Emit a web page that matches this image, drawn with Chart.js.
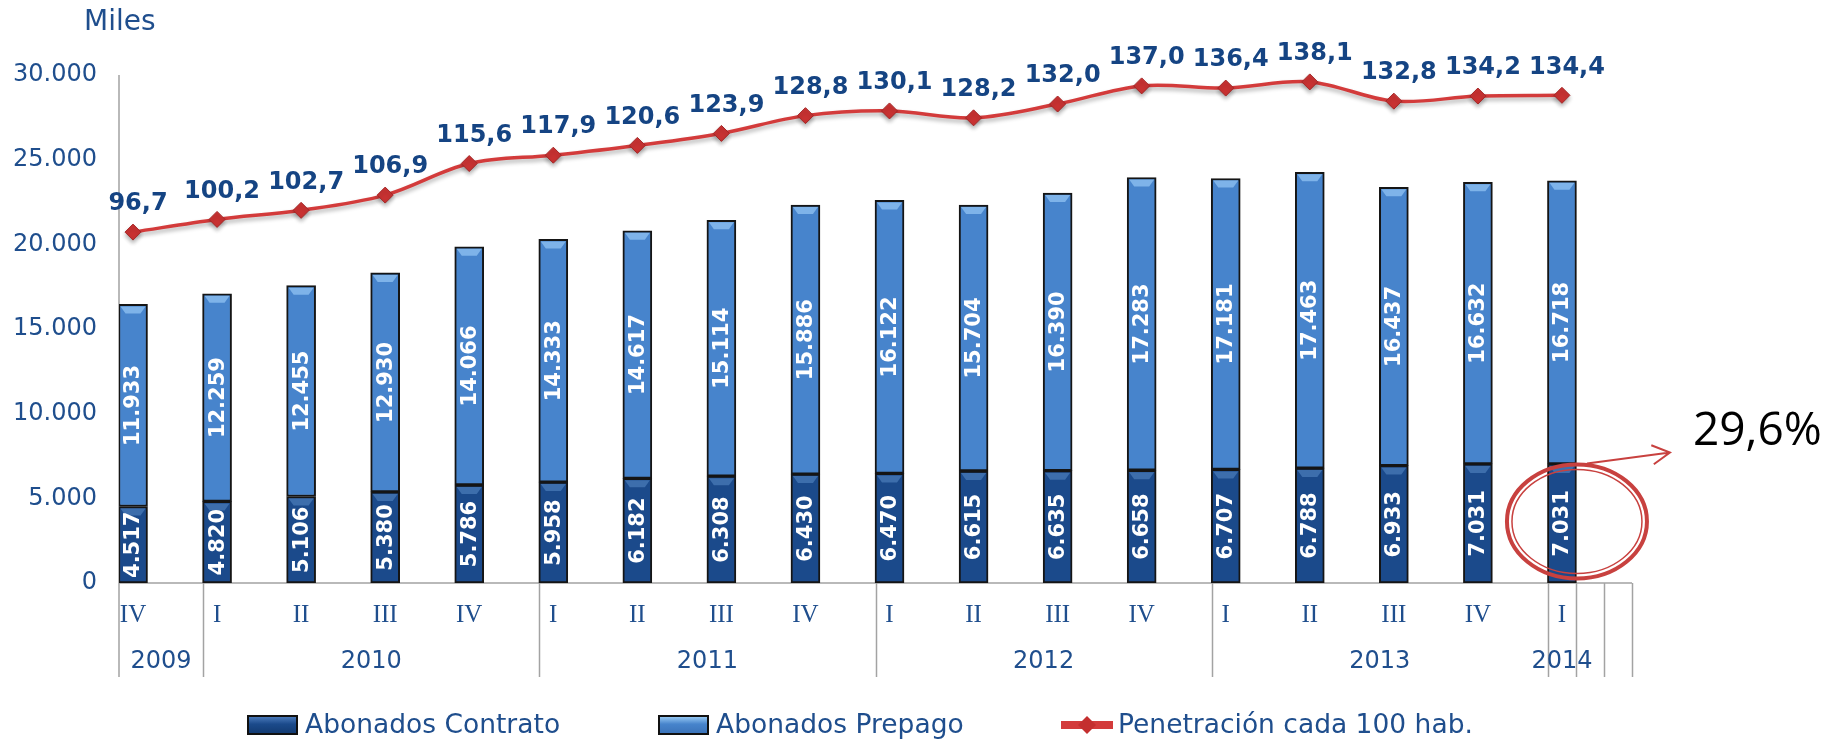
<!DOCTYPE html>
<html lang="es">
<head>
<meta charset="utf-8">
<title>Abonados y penetración</title>
<script src="https://cdn.jsdelivr.net/npm/chart.js@4.4.1/dist/chart.umd.min.js"></script>
<style>
  html, body { margin: 0; padding: 0; background: #fff; }
  #wrap { width: 1828px; height: 742px; }
</style>
</head>
<body>
<div id="wrap"><canvas id="chart" width="1828" height="742"></canvas></div>
<script>
// Chart data
const quarters = ['IV', 'I', 'II', 'III', 'IV', 'I', 'II', 'III', 'IV', 'I', 'II', 'III', 'IV', 'I', 'II', 'III', 'IV', 'I'];
const years = ['2009', '2010', '2011', '2012', '2013', '2014'];
const yearSpans = [1, 4, 4, 4, 4, 1];
const contrato = [4517, 4820, 5106, 5380, 5786, 5958, 6182, 6308, 6430, 6470, 6615, 6635, 6658, 6707, 6788, 6933, 7031, 7031];
const prepago = [11933, 12259, 12455, 12930, 14066, 14333, 14617, 15114, 15886, 16122, 15704, 16390, 17283, 17181, 17463, 16437, 16632, 16718];
const penetracion = [96.7, 100.2, 102.7, 106.9, 115.6, 117.9, 120.6, 123.9, 128.8, 130.1, 128.2, 132.0, 137.0, 136.4, 138.1, 132.8, 134.2, 134.4];
const seriesNames = ['Abonados Contrato', 'Abonados Prepago', 'Penetración cada 100 hab.'];
const axisTitle = 'Miles';
const calloutText = '29,6%';

// bars sit in the left third of each quarter slot
const BAR_OFFSET = 1 / 6;

const TEXT_BLUE = '#1f4e8d';
const LABEL_BLUE = '#154483';
const AXIS_GRAY = '#a3a3a3';
const DARK_BLUE = '#1b4a8b';
const LIGHT_BLUE = '#4784cc';
const RED = '#d33b3b';
const SANS = '"DejaVu Sans", Verdana, sans-serif';

function miles(v) {
    return String(v).replace(/\B(?=(\d{3})+(?!\d))/g, '.');
}
function decimal(v) {
    return v.toFixed(1).replace('.', ',');
}
const toPoints = (arr) => arr.map((v, i) => ({ x: i, y: v }));

// Slot edge in pixels (slot s starts at value s - BAR_OFFSET)
function slotEdge(chart, s) {
    return chart.scales.x.getPixelForValue(s - BAR_OFFSET);
}

const decorPlugin = {
    id: 'decor',
    beforeDatasetsDraw(chart) {
        const ctx = chart.ctx;
        const area = chart.chartArea;
        const lowY = area.bottom + 94;
        ctx.save();
        ctx.strokeStyle = AXIS_GRAY;
        ctx.lineWidth = 1.5;
        ctx.beginPath();
        // value axis
        ctx.moveTo(area.left, area.top);
        ctx.lineTo(area.left, lowY);
        // base line
        ctx.moveTo(area.left, area.bottom);
        ctx.lineTo(area.right, area.bottom);
        // year separators
        let s = 0;
        yearSpans.forEach((span) => {
            s += span;
            const x = Math.round(slotEdge(chart, s)) + 0.5;
            ctx.moveTo(x, area.bottom);
            ctx.lineTo(x, lowY);
        });
        // the odd extra split lines at the end of the axis
        [quarters.length - 1, quarters.length - 1 + 1 / 3, quarters.length - 1 + 2 / 3].forEach((v) => {
            const x = Math.round(slotEdge(chart, v)) + 0.5;
            ctx.moveTo(x, area.bottom);
            ctx.lineTo(x, lowY);
        });
        ctx.stroke();
        ctx.restore();
    },
    beforeDatasetDraw(chart, args) {
        if (args.meta.type === 'line') {
            const ctx = chart.ctx;
            ctx.save();
            ctx.shadowColor = 'rgba(0,0,0,0.3)';
            ctx.shadowBlur = 4;
            ctx.shadowOffsetY = 3;
        }
    },
    afterDatasetDraw(chart, args) {
        if (args.meta.type === 'line') {
            chart.ctx.restore();
        }
    },
    afterDatasetsDraw(chart) {
        const ctx = chart.ctx;
        ctx.save();
        // bevel highlight + value labels in the bars
        [0, 1].forEach((di) => {
            const meta = chart.getDatasetMeta(di);
            const vals = chart.data.datasets[di].data;
            meta.data.forEach((bar, i) => {
                const p = bar.getProps(['x', 'y', 'base', 'width'], true);
                const top = Math.min(p.y, p.base);
                const bottom = Math.max(p.y, p.base);
                const l = p.x - p.width / 2 + 2;
                const r = p.x + p.width / 2 - 2;
                ctx.fillStyle = di === 0 ? 'rgba(90,140,200,0.55)' : 'rgba(150,200,245,0.7)';
                ctx.beginPath();
                ctx.moveTo(l, top + 2);
                ctx.lineTo(r, top + 2);
                ctx.lineTo(r - 5, top + 9);
                ctx.lineTo(l + 5, top + 9);
                ctx.closePath();
                ctx.fill();

                ctx.save();
                ctx.translate(p.x + 1, (top + bottom) / 2);
                ctx.rotate(-Math.PI / 2);
                ctx.fillStyle = '#ffffff';
                ctx.font = 'bold 21px ' + SANS;
                ctx.textAlign = 'center';
                ctx.textBaseline = 'middle';
                ctx.fillText(miles(vals[i].y), 0, 0);
                ctx.restore();
            });
        });
        // labels above the line points
        const lineMeta = chart.getDatasetMeta(2);
        ctx.font = 'bold 24px ' + SANS;
        ctx.fillStyle = LABEL_BLUE;
        ctx.textAlign = 'center';
        ctx.textBaseline = 'middle';
        lineMeta.data.forEach((pt, i) => {
            ctx.fillText(decimal(penetracion[i]), pt.x + 5, pt.y - 28);
        });
        ctx.restore();
    },
    afterDraw(chart) {
        const ctx = chart.ctx;
        const area = chart.chartArea;
        const xs = chart.scales.x;
        ctx.save();

        // axis title
        ctx.fillStyle = TEXT_BLUE;
        ctx.font = '28px ' + SANS;
        ctx.textAlign = 'left';
        ctx.textBaseline = 'middle';
        ctx.fillText(axisTitle, 84, 23);

        // quarter labels, centred under the bars
        ctx.font = '25px "Liberation Serif", "Times New Roman", serif';
        ctx.textAlign = 'center';
        quarters.forEach((q, i) => {
            ctx.fillText(q, xs.getPixelForValue(i), area.bottom + 32);
        });

        // year labels, centred on their group
        ctx.font = '24px ' + SANS;
        let s = 0;
        years.forEach((y, k) => {
            let cx = (slotEdge(chart, s) + slotEdge(chart, s + yearSpans[k])) / 2;
            // last group is drawn squeezed to the bar width
            if (k === years.length - 1) cx = xs.getPixelForValue(s);
            ctx.fillText(y, cx, area.bottom + 79);
            s += yearSpans[k];
        });

        // legend
        const ly = 725;
        const legendX = [248, 659, 1061];
        ctx.font = '26.5px ' + SANS;
        ctx.textAlign = 'left';
        seriesNames.forEach((name, k) => {
            const lx = legendX[k];
            if (k < 2) {
                const g = ctx.createLinearGradient(0, ly - 9, 0, ly + 9);
                g.addColorStop(0, k === 0 ? '#4f7fbf' : '#9fd0f7');
                g.addColorStop(0.45, k === 0 ? DARK_BLUE : LIGHT_BLUE);
                g.addColorStop(1, k === 0 ? '#123a70' : '#3a72b8');
                ctx.fillStyle = g;
                ctx.fillRect(lx, ly - 9, 49, 18);
                ctx.strokeStyle = '#111';
                ctx.lineWidth = 2;
                ctx.strokeRect(lx, ly - 9, 49, 18);
            } else {
                ctx.fillStyle = RED;
                ctx.fillRect(lx, ly - 4, 52, 8);
                ctx.fillStyle = '#c42f2f';
                ctx.beginPath();
                ctx.moveTo(lx + 26, ly - 9);
                ctx.lineTo(lx + 35, ly);
                ctx.lineTo(lx + 26, ly + 9);
                ctx.lineTo(lx + 17, ly);
                ctx.closePath();
                ctx.fill();
            }
            ctx.fillStyle = TEXT_BLUE;
            ctx.fillText(name, lx + 57, ly + 1);
        });

        // callout around the last contract bar
        const last = chart.getDatasetMeta(0).data[quarters.length - 1];
        const lp = last.getProps(['x', 'y', 'base'], true);
        const ex = lp.x + 15;
        const ey = (lp.y + lp.base) / 2 - 2;
        ctx.strokeStyle = '#c8413f';
        ctx.lineWidth = 4;
        ctx.beginPath();
        ctx.ellipse(ex, ey, 70, 57, 0, 0, Math.PI * 2);
        ctx.stroke();
        ctx.lineWidth = 1.5;
        ctx.beginPath();
        ctx.ellipse(ex, ey, 65, 52, 0, 0, Math.PI * 2);
        ctx.stroke();
        // arrow
        const ax0 = ex + 10, ay0 = ey - 58;
        const ax1 = ex + 93, ay1 = ey - 69;
        const ang = Math.atan2(ay1 - ay0, ax1 - ax0);
        ctx.lineWidth = 2;
        ctx.beginPath();
        ctx.moveTo(ax0, ay0);
        ctx.lineTo(ax1, ay1);
        ctx.moveTo(ax1 - 20 * Math.cos(ang - 0.5), ay1 - 20 * Math.sin(ang - 0.5));
        ctx.lineTo(ax1, ay1);
        ctx.lineTo(ax1 - 20 * Math.cos(ang + 0.5), ay1 - 20 * Math.sin(ang + 0.5));
        ctx.stroke();
        ctx.fillStyle = '#000';
        ctx.font = '46px "Open Sans", Lato, sans-serif';
        ctx.textAlign = 'left';
        ctx.textBaseline = 'middle';
        ctx.fillText(calloutText, ex + 116, ey - 90);

        ctx.restore();
    }
};

const ctx = document.getElementById('chart').getContext('2d');
const chart = new Chart(ctx, {
    data: {
        datasets: [{
            type: 'bar',
            label: seriesNames[0],
            data: toPoints(contrato),
            stack: 'abonados',
            backgroundColor: DARK_BLUE,
            borderColor: '#151515',
            borderWidth: 2,
            borderSkipped: false,
            barThickness: 29,
            order: 2
        }, {
            type: 'bar',
            label: seriesNames[1],
            data: toPoints(prepago),
            stack: 'abonados',
            backgroundColor: LIGHT_BLUE,
            borderColor: '#151515',
            borderWidth: 2,
            borderSkipped: false,
            barThickness: 29,
            order: 2
        }, {
            type: 'line',
            label: seriesNames[2],
            data: toPoints(penetracion),
            yAxisID: 'y2',
            borderColor: RED,
            borderWidth: 3.5,
            tension: 0.35,
            pointStyle: 'rectRot',
            pointRadius: 8,
            pointBackgroundColor: '#c93232',
            pointBorderColor: '#a52626',
            pointBorderWidth: 1,
            clip: false,
            order: 1
        }]
    },
    options: {
        responsive: false,
        animation: false,
        layout: {
            padding: { left: 0, top: 75, right: 196, bottom: 159 }
        },
        plugins: {
            legend: { display: false },
            tooltip: { enabled: false }
        },
        scales: {
            x: {
                type: 'linear',
                display: false,
                offset: false,
                min: -BAR_OFFSET,
                max: quarters.length - BAR_OFFSET
            },
            y: {
                stacked: true,
                min: 0,
                max: 30000,
                grid: { display: false, drawTicks: false },
                border: { display: false },
                ticks: {
                    stepSize: 5000,
                    padding: 22,
                    color: TEXT_BLUE,
                    font: { family: SANS, size: 24 },
                    callback: (v) => miles(v)
                },
                afterFit: (scale) => { scale.width = 119; }
            },
            y2: {
                display: false,
                min: 0,
                max: 140
            }
        }
    },
    plugins: [decorPlugin]
});
</script>
</body>
</html>
